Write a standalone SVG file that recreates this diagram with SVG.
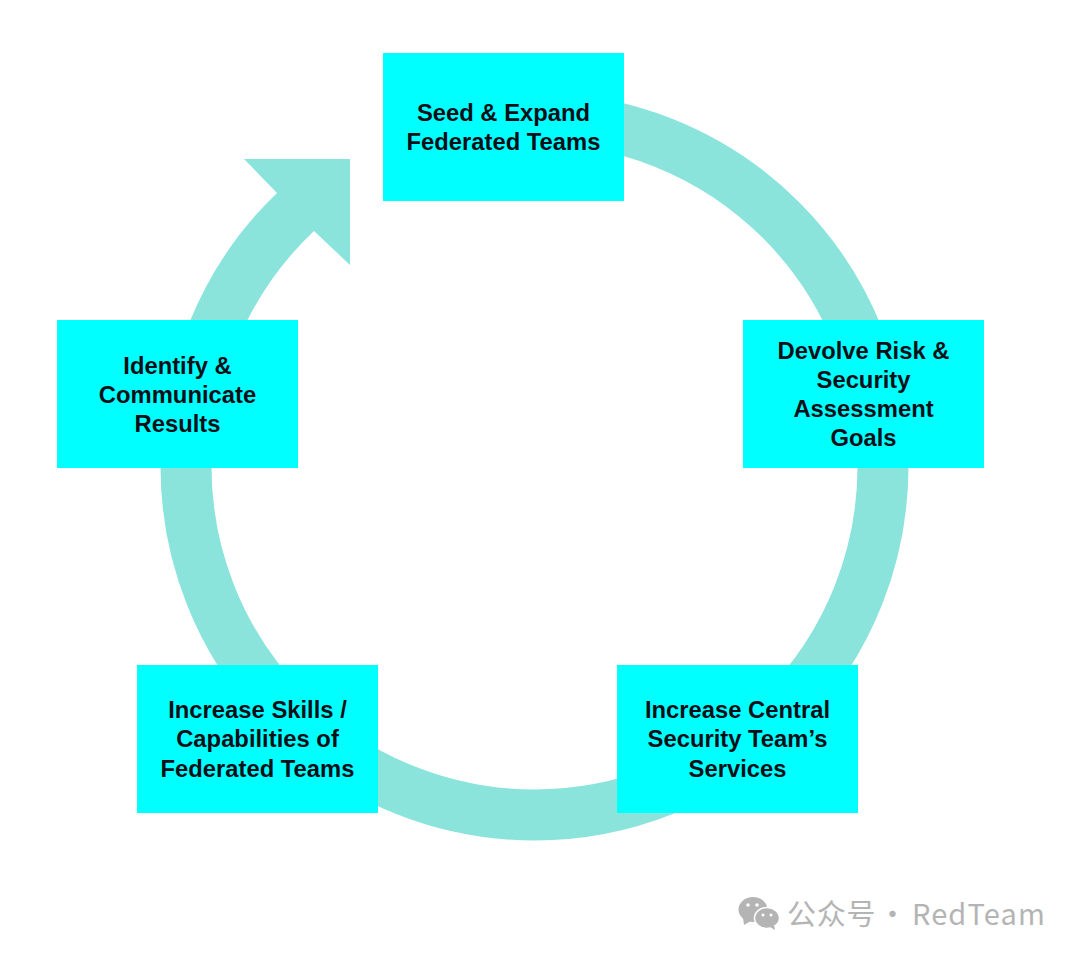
<svg xmlns="http://www.w3.org/2000/svg" width="1080" height="957" viewBox="0 0 1080 957">
<style>
.n{fill:#00ffff}
.t{font-family:"Liberation Sans",Arial,sans-serif;font-size:23.8px;font-weight:700;fill:#0a0f18;text-anchor:middle}
.w{font-family:"Noto Sans CJK SC","Noto Sans",sans-serif;font-size:29px;fill:#b4b4b4}
.b{fill:#b4b4b4}
.e{fill:#fff}
</style>
<rect width="1080" height="957" fill="#fff"/>
<g id="connectors">
<path d="M 534.500 118 A 348.500 348.500 0 1 1 186 466.500" fill="none" stroke="#8ae4dc" stroke-width="51"/>
<path d="M 244 159 H 350 V 265 L 314 231 A 322.500 322.500 0 0 0 247 321 H 190 A 373.500 373.500 0 0 1 277 193 Z" fill="#8ae4dc"/>
</g>
<g id="node-seed"><rect class="n" x="383" y="53" width="241" height="148"/><text class="t" x="503.500" y="120.500">Seed &amp; Expand</text><text class="t" x="503.500" y="149.500">Federated Teams</text></g>
<g id="node-devolve"><rect class="n" x="743" y="320" width="241" height="148"/><text class="t" x="863.500" y="359">Devolve Risk &amp;</text><text class="t" x="863.500" y="388">Security</text><text class="t" x="863.500" y="417">Assessment</text><text class="t" x="863.500" y="445.500">Goals</text></g>
<g id="node-central"><rect class="n" x="617" y="665" width="241" height="148"/><text class="t" x="737.500" y="718">Increase Central</text><text class="t" x="737.500" y="747">Security Team’s</text><text class="t" x="737.500" y="776.500">Services</text></g>
<g id="node-skills"><rect class="n" x="137" y="665" width="241" height="148"/><text class="t" x="257.500" y="718">Increase Skills /</text><text class="t" x="257.500" y="747">Capabilities of</text><text class="t" x="257.500" y="776.500">Federated Teams</text></g>
<g id="node-identify"><rect class="n" x="57" y="320" width="241" height="148"/><text class="t" x="177.500" y="374">Identify &amp;</text><text class="t" x="177.500" y="403">Communicate</text><text class="t" x="177.500" y="432">Results</text></g>
<g id="watermark">
<ellipse class="b" cx="753" cy="909.500" rx="14.500" ry="12.500"/>
<path class="b" d="M743 918 L744 925 L751 921 Z"/>
<ellipse class="b" cx="767" cy="918" rx="12.500" ry="10.500" stroke="#fff" stroke-width="1.500"/>
<path class="b" d="M770 927 L775 930 L774 925 Z"/>
<circle class="e" cx="748" cy="905" r="1.800"/><circle class="e" cx="757" cy="905" r="1.800"/>
<circle class="e" cx="763" cy="915" r="1.500"/><circle class="e" cx="771" cy="915" r="1.500"/>
<text class="w" x="787" y="925" letter-spacing="0.800">公众号</text>
<text class="w" x="878" y="925">·</text>
<text class="w" x="912" y="925" letter-spacing="1.100">RedTeam</text>
</g>
</svg>
